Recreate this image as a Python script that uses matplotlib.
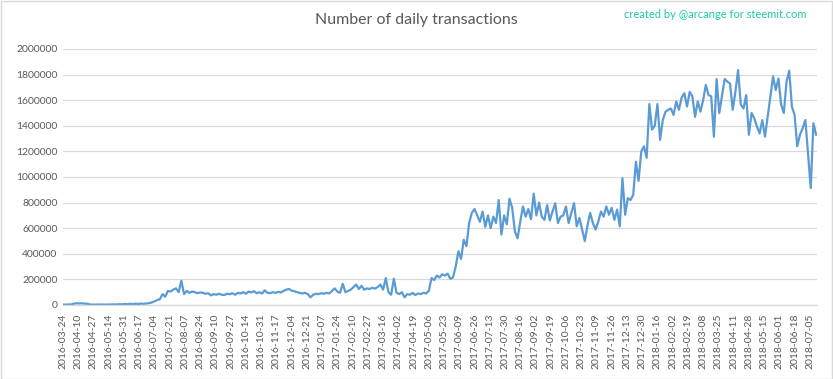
import matplotlib
matplotlib.use("Agg")
import matplotlib.pyplot as plt
import matplotlib.dates as mdates
import pandas as pd
from matplotlib.patches import Rectangle

# ---------------- data ----------------
title = "Number of daily transactions"
credit = "created by @arcange for steemit.com"
start_date = "2016-03-24"
step_days = 3  # one value every 3 days
daily_transactions = [
    3000, 3000, 4000, 4000, 11000, 13000, 12000, 13000, 11000, 10000,
    4000, 3000, 3000, 4000, 3000, 4000, 3000, 4000, 4000, 5000,
    4000, 6000, 5000, 8000, 6000, 9000, 7000, 10000, 8000, 11000,
    9000, 12000, 14000, 20000, 28000, 38000, 45000, 85000, 65000, 110000,
    105000, 120000, 130000, 100000, 190000, 85000, 110000, 95000, 105000, 100000,
    92000, 98000, 95000, 88000, 92000, 75000, 85000, 80000, 88000, 80000,
    78000, 88000, 84000, 92000, 80000, 95000, 90000, 100000, 88000, 105000,
    98000, 108000, 92000, 100000, 90000, 115000, 95000, 92000, 100000, 95000,
    102000, 98000, 110000, 120000, 125000, 112000, 108000, 100000, 95000, 90000,
    95000, 85000, 60000, 80000, 88000, 85000, 92000, 88000, 95000, 90000,
    110000, 130000, 105000, 95000, 165000, 100000, 110000, 120000, 140000, 160000,
    125000, 150000, 120000, 130000, 125000, 135000, 128000, 140000, 160000, 120000,
    210000, 100000, 80000, 205000, 95000, 85000, 100000, 60000, 85000, 80000,
    95000, 78000, 90000, 85000, 95000, 90000, 110000, 210000, 195000, 230000,
    215000, 240000, 230000, 245000, 205000, 215000, 300000, 420000, 360000, 510000,
    460000, 640000, 720000, 750000, 700000, 650000, 730000, 610000, 700000, 600000,
    690000, 640000, 820000, 550000, 700000, 630000, 830000, 760000, 575000, 520000,
    650000, 770000, 690000, 750000, 670000, 870000, 700000, 800000, 690000, 665000,
    780000, 660000, 730000, 795000, 640000, 690000, 700000, 770000, 640000, 720000,
    795000, 615000, 680000, 590000, 500000, 620000, 720000, 640000, 590000, 650000,
    730000, 690000, 770000, 705000, 760000, 665000, 745000, 615000, 990000, 705000,
    835000, 820000, 860000, 1120000, 970000, 1200000, 1240000, 1150000, 1570000, 1370000,
    1400000, 1570000, 1290000, 1445000, 1510000, 1525000, 1535000, 1485000, 1590000, 1525000,
    1620000, 1655000, 1550000, 1665000, 1630000, 1470000, 1590000, 1510000, 1600000, 1720000,
    1640000, 1630000, 1315000, 1765000, 1500000, 1630000, 1765000, 1745000, 1730000, 1525000,
    1665000, 1835000, 1565000, 1535000, 1640000, 1330000, 1500000, 1460000, 1395000, 1340000,
    1445000, 1315000, 1470000, 1630000, 1785000, 1680000, 1770000, 1565000, 1500000, 1745000,
    1830000, 1550000, 1485000, 1240000, 1330000, 1380000, 1445000, 1185000, 913000, 1420000,
    1330000,
]
x_tick_labels = [
    "2016-03-24", "2016-04-10", "2016-04-27", "2016-05-14", "2016-05-31",
    "2016-06-17", "2016-07-04", "2016-07-21", "2016-08-07", "2016-08-24",
    "2016-09-10", "2016-09-27", "2016-10-14", "2016-10-31", "2016-11-17",
    "2016-12-04", "2016-12-21", "2017-01-07", "2017-01-24", "2017-02-10",
    "2017-02-27", "2017-03-16", "2017-04-02", "2017-04-19", "2017-05-06",
    "2017-05-23", "2017-06-09", "2017-06-26", "2017-07-13", "2017-07-30",
    "2017-08-16", "2017-09-02", "2017-09-19", "2017-10-06", "2017-10-23",
    "2017-11-09", "2017-11-26", "2017-12-13", "2017-12-30", "2018-01-16",
    "2018-02-02", "2018-02-19", "2018-03-08", "2018-03-25", "2018-04-11",
    "2018-04-28", "2018-05-15", "2018-06-01", "2018-06-18", "2018-07-05",
]
y_ticks = [0, 200000, 400000, 600000, 800000, 1000000, 1200000,
           1400000, 1600000, 1800000, 2000000]

# ---------------- plot ----------------
plt.rcParams["font.family"] = ["Lato", "DejaVu Sans"]
text_color = "#595959"
grid_color = "#D9D9D9"

fig = plt.figure(figsize=(8.33, 3.79), dpi=100)
ax = fig.add_axes([63 / 833, 1 - 305 / 379, (817 - 63) / 833, (305 - 49) / 379])

dates = pd.date_range(start_date, periods=len(daily_transactions), freq=f"{step_days}D")
ax.plot(dates, daily_transactions, color="#5B9BD5", linewidth=1.6, solid_joinstyle="round")

tick_dates = pd.to_datetime(x_tick_labels)
ax.set_xticks(tick_dates)
ax.set_xticklabels(x_tick_labels, rotation=90, fontsize=7.5, color=text_color)
ax.set_xlim(pd.Timestamp(start_date), dates[-1] + pd.Timedelta(days=1))

ax.set_yticks(y_ticks)
ax.set_yticklabels([str(v) for v in y_ticks], fontsize=7.5, color=text_color)
ax.set_ylim(0, 2000000)

ax.grid(axis="y", color=grid_color, linewidth=0.9)
ax.set_axisbelow(True)
for s in ["top", "right", "left"]:
    ax.spines[s].set_visible(False)
ax.spines["bottom"].set_color(grid_color)
ax.spines["bottom"].set_linewidth(0.9)
ax.tick_params(axis="both", length=0, pad=4)
ax.tick_params(axis="x", pad=6)

fig.text(416 / 833, 1 - 20 / 379, title, ha="center", va="center",
         fontsize=11.5, color=text_color)
fig.text(806 / 833, 1 - 14 / 379, credit, ha="right", va="center",
         fontsize=8, color="#1ECBA0")

fig.patches.append(Rectangle((0.5 / 833, 0.5 / 379), 831.5 / 833, 377.5 / 379,
                             transform=fig.transFigure, fill=False,
                             edgecolor=grid_color, linewidth=1.0))

fig.savefig("out.png", dpi=100)
